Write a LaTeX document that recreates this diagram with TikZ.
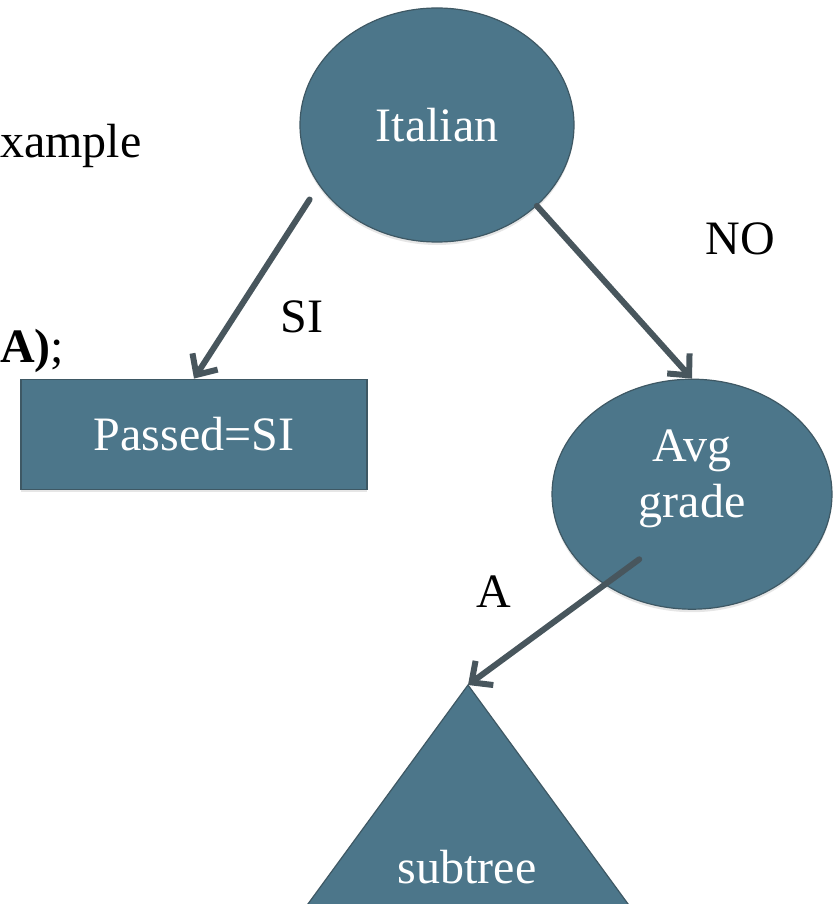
\documentclass[tikz,border=0pt]{standalone}
\usepackage{fontspec}
\setmainfont{Liberation Serif}
\usetikzlibrary{arrows.meta, positioning, shapes.geometric, shadows}
\definecolor{stoneblue}{RGB}{76,118,138}
\definecolor{stoneedge}{RGB}{62,88,100}
\definecolor{arrowgrey}{RGB}{72,86,93}

\begin{document}
\begin{tikzpicture}[
  x=1pt, y=-1pt,
  node distance=136pt,
  stonefill/.style={draw=stoneedge, line width=1.2pt, fill=stoneblue,
               drop shadow={shadow xshift=0pt, shadow yshift=-3pt, opacity=0.2}},
  oval/.style={stonefill, ellipse, inner sep=0pt, text=white, font=\fontsize{48}{56}\selectfont},
  leaf/.style={stonefill, rectangle, inner sep=0pt, text=white, font=\fontsize{48}{56}\selectfont},
  lbl/.style={font=\fontsize{48}{56}\selectfont, align=center},
  arr/.style={-{Straight Barb[length=16pt,width=30pt]}, line width=6pt, line cap=round, draw=arrowgrey}
]
\useasboundingbox (0,0) rectangle (833,904);
\clip (0,0) rectangle (833,904);

% slide text cut at the left edge
\node[lbl, anchor=base west, inner sep=0pt] (example) at (0,158) {xample};
\node[lbl, anchor=base west, inner sep=0pt] (call) at (0,362) {\textbf{A)};};

% tree
\node[oval, minimum width=274pt, minimum height=234pt] (italian) at (437,125) {Italian};
\node[leaf, below=136pt of italian, xshift=-243pt, minimum width=346pt, minimum height=110pt] (passed) {Passed=SI};
\node[oval, below=136pt of italian, xshift=255pt, minimum width=280pt, minimum height=230pt] (avg) {};
\node[lbl, text=white] (avgtext) at ([yshift=15pt]avg.center) {Avg\\grade};

\coordinate (apex) at (468,685);
\draw[stonefill] (apex) -- ++(-201,275) -- ++(402,0) -- cycle;
\node[lbl, text=white] (subtree) at (467,867) {subtree};

\draw[arr, shorten <=17pt] (italian.207) -- (passed.north);
\draw[arr] (italian.321) -- (avg.north);
\draw[arr, shorten <=-43pt] (avg.226) -- (apex);

\node[lbl] (si) at (302,317) {SI};
\node[lbl] (no) at (740,239) {NO};
\node[lbl] (a) at (494,592) {A};
\end{tikzpicture}
\end{document}
